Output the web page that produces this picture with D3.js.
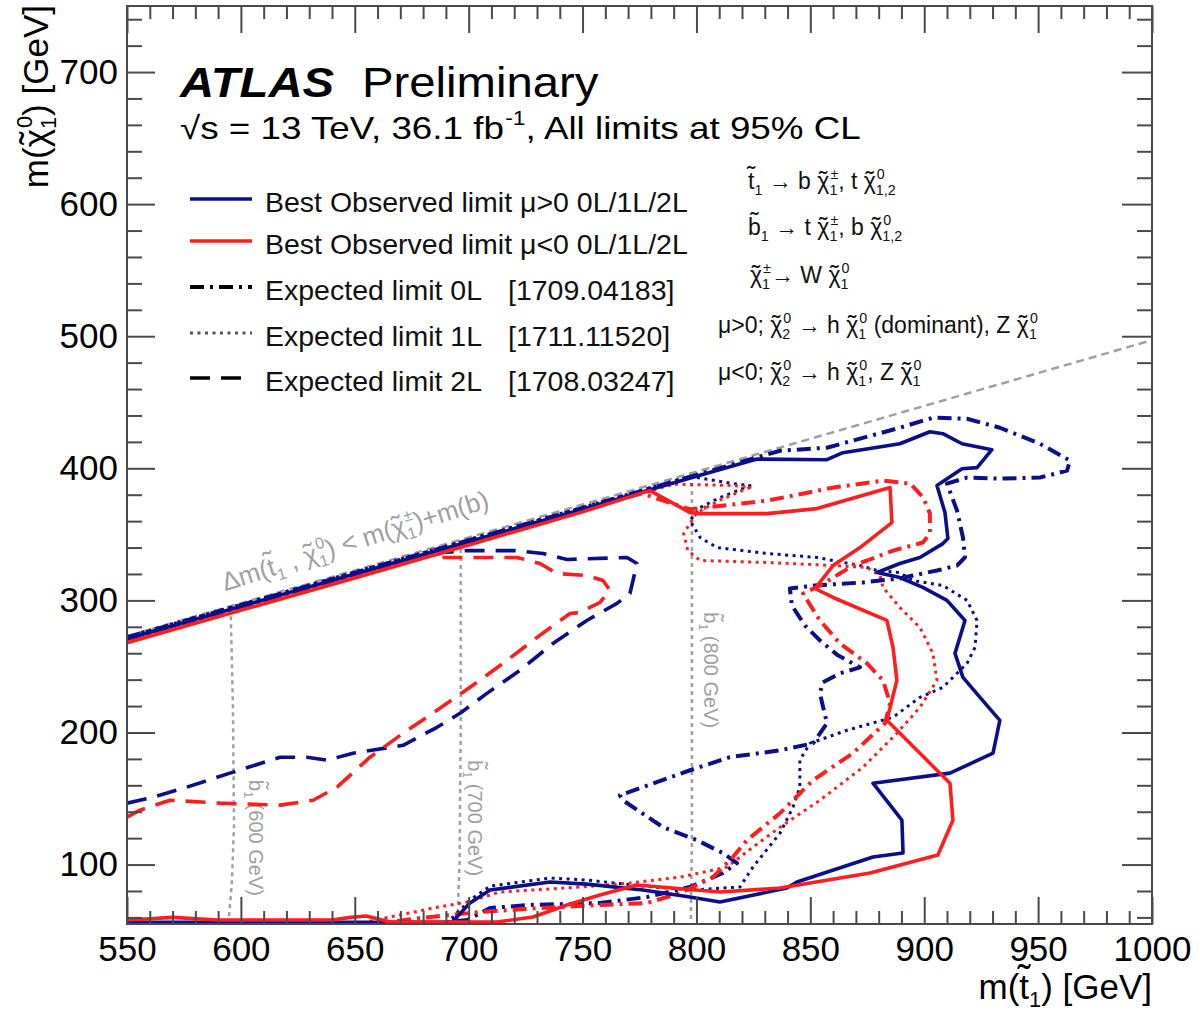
<!DOCTYPE html>
<html>
<head>
<meta charset="utf-8">
<script src="https://cdn.jsdelivr.net/npm/d3@7"></script>
<style>
  body { margin: 0; background: #fff; }
  svg { font-family: "Liberation Sans", Arial, Helvetica, sans-serif; }
  text { white-space: pre; }
</style>
</head>
<body>
<svg id="chart" width="1200" height="1016"></svg>
<script>
// ---------------------------------------------------------------------------
// ATLAS stop/sbottom -> b chi+, t chi0 exclusion summary (36.1 fb-1)
// values, [m(stop), m(chi0)] in GeV
// ---------------------------------------------------------------------------

const xDomain = [550, 1000];
const yDomain = [55, 750];
const xMajor = d3.range(550, 1001, 50);
const xMinor = d3.range(550, 1001, 10).filter(v => v % 50 !== 0);
const yMajor = d3.range(100, 701, 100);
const yMinor = d3.range(60, 750, 20).filter(v => v % 100 !== 0);

// best observed, mu > 0 (blue solid)
const obsPos = [
  [550, 271], [650, 320], [750, 369], [800, 394], [826.6, 407], [857.3, 406.5],
  [864.3, 411.8], [889.3, 418.6], [902.5, 427.7], [908.2, 426.2], [916.6, 418.6],
  [929.7, 414.1], [923.2, 400.5], [916.6, 399.7], [905.6, 386.9], [909.1, 366.5],
  [910.4, 346.8], [908.2, 343], [898.1, 332.5], [889.3, 327.9], [879.3, 321.1],
  [889.3, 317.3], [899.4, 309.8], [910, 300], [917.9, 284.8], [913.5, 259.9],
  [917, 241.7], [924.5, 226.6], [933.2, 209.2], [930.2, 184.3], [911.3, 169.2],
  [877.5, 161.6], [890.2, 133.6], [890.7, 108.7], [877.5, 105.7], [844.1, 86.8],
  [839.7, 82.2], [810.3, 71.6], [797.2, 75.4], [776.5, 80.7], [751.9, 85.2],
  [735.7, 86.8], [709.4, 80.7], [700.6, 70.9], [692.7, 56.5], [650, 56.3], [550, 56.3]
];

// best observed, mu < 0 (red solid)
const obsNeg = [
  [550, 268], [650, 317], [700, 342], [750, 367], [776.5, 381.6], [779.6, 383.1],
  [797.2, 366.5], [801.6, 365.7], [831, 365.7], [852.9, 369.5], [885, 385.4],
  [885.8, 358.9], [871.8, 340], [860, 326.4], [852, 309], [860, 302.2],
  [883.6, 284.8], [886.3, 264.4], [888, 239.5], [883.6, 209.2], [911.3, 161.6],
  [912.6, 133.6], [906, 107.2], [876.2, 93.6], [836.7, 82.2], [810.3, 79.2],
  [773.9, 84.5], [757.6, 76.9], [743.2, 69.4], [728.2, 60.3], [712.4, 56.5],
  [665.5, 56.5], [655, 61], [648, 60], [640, 58], [590, 58], [570, 60], [560, 59], [550, 58]
];

// expected 0L (dash-dot)
const exp0LPos = [
  [550, 272], [650, 321], [750, 370], [800, 395], [836.7, 413.3], [857.3, 415.6],
  [889.3, 430.7], [903.8, 438.3], [918.8, 437.5], [933.2, 430.7], [950.8, 418.6],
  [964, 405.8], [962.7, 398.2], [950.8, 393], [933.2, 392.2], [918.8, 393],
  [910, 388.4], [914.4, 368], [917, 347.6], [917.9, 332.5], [914.4, 326.4],
  [905.6, 322.6], [895, 318.8], [889.3, 316.6], [873.1, 313.6], [852, 311.3],
  [841, 309], [841.9, 296.2], [847.6, 281], [854.2, 269.7], [862.1, 258.4],
  [871.8, 249.3], [863, 244.8], [855.5, 238], [854.2, 229.6], [857.3, 207],
  [851.2, 191.8], [836.7, 186.5], [814.7, 181.3], [797.2, 171.4], [766.4, 152.5],
  [767.7, 148.7], [785.3, 128.3], [800.2, 118.5], [811.6, 108.7], [817.8, 101.1],
  [811.6, 93.6], [797.2, 83], [778.3, 75.4], [757.6, 70.9], [726.9, 69.4],
  [709.4, 67.1], [699.3, 58], [690, 56.3]
];
const exp0LNeg = [
  [550, 269], [650, 318], [750, 368], [776, 381], [797, 369], [831, 375.5],
  [860, 385.4], [882, 390.7], [893.9, 388.4], [899.6, 377.8], [902.5, 365.7],
  [902.5, 350.6], [899.4, 343.8], [886.3, 337.7], [874.9, 330.2], [868.7, 326.4],
  [863, 320.4], [854.2, 311.3], [846.8, 305.2], [854.2, 284.8], [863, 267.4],
  [874.9, 252.3], [881.9, 239.5], [885, 222.1], [882.8, 207], [868.7, 184.3],
  [851.2, 163.9], [836.7, 138.9], [822.2, 118.5], [816, 105.7], [807.3, 90.5],
  [792.8, 78.4], [778.3, 70.9], [757.6, 69.4], [731.3, 67.1], [705, 64.1],
  [678.6, 59.5], [665.5, 56.5]
];

// expected 1L (dotted)
const exp1LPos = [
  [550, 272.5], [650, 321.5], [750, 370.5], [797.2, 394], [816, 388.4], [823.5, 386.9],
  [810.3, 377.8], [801.6, 370.3], [797.2, 360.4], [801.6, 347.6], [809, 340],
  [831, 335.5], [852.9, 332.5], [871.8, 326.4], [879.3, 322.6], [889.3, 321.1],
  [895, 315], [908.2, 311.3], [918.8, 300], [923.2, 284.8], [922.3, 264.4],
  [918.8, 252.3], [914.4, 244.8], [908.2, 234.2], [898.1, 226.6], [886.3, 211.5],
  [866.1, 201.7], [849.8, 191.8], [845.4, 179], [845.4, 158.6], [842.4, 143.5],
  [836.7, 123.8], [824.8, 98.1], [819.1, 83], [797.2, 80.7], [776.5, 83.7],
  [751.9, 88.3], [735.7, 89.8], [709.4, 83.7], [700.6, 73.1], [691.8, 58]
];
const exp1LNeg = [
  [550, 269.5], [650, 318.5], [750, 368.5], [790, 388], [816, 387], [823.5, 385.5],
  [810.3, 376], [800, 366], [794.4, 350.6], [796.2, 337.7], [801.6, 330.2],
  [831, 328.7], [860, 326.4], [874.9, 324.9], [880.6, 318.8], [881.9, 309.8],
  [889.3, 294.6], [898.1, 279.5], [903.8, 259.9], [905.6, 239.5], [898.1, 219],
  [888, 199.4], [873.1, 173.7], [854.2, 148.7], [836.7, 128.3], [824.8, 113.2],
  [813.4, 98.1], [792.8, 90.5], [770.8, 86], [748.9, 83], [713.7, 79.2],
  [699.3, 71.6], [684.3, 67.1], [665.5, 60.3], [655, 56.5]
];

// expected 2L (dashed)
const exp2LPos = [
  [550, 146.5], [561.4, 151], [576.3, 158.6], [595.2, 169.2], [617.2, 181.3],
  [629, 181.3], [637.8, 179], [649.2, 184.3], [671.2, 190.3], [686.1, 203.9],
  [696.2, 214.5], [708, 229.6], [722.5, 247], [737, 267.4], [751.9, 284.8],
  [765.1, 297.7], [770.8, 305.2], [773.9, 327.9], [769.5, 332.5], [743.2, 331],
  [732.6, 335.5], [721.2, 337.7], [699.3, 337.7], [688.7, 336.2], [684.3, 334]
];
const exp2LNeg = [
  [550, 135.9], [555.7, 141.2], [568.9, 148.7], [590.8, 146.5], [617.2, 145],
  [631.7, 148.7], [642.2, 158.6], [656.7, 181.3], [671.2, 199.4], [686.1, 216.8],
  [700.6, 234.2], [715.1, 252.3], [730, 272], [744.5, 290.1], [748.9, 290.9],
  [757.6, 298.4], [762, 307.5], [759, 315], [752, 318.8], [738.8, 320.4],
  [731.3, 327.9], [721.2, 332.5], [706.3, 332.5], [688.7, 332.5], [684.3, 331.7]
];

// kinematic limit and sbottom mass contours
const kinLine = [[550, 273], [1000, 497]];
const sb600 = [[595.5, 294], [596.5, 220], [597, 130], [596, 85], [594.5, 56]];
const sb700 = [[696.5, 345], [696.5, 200], [696, 100], [695, 56]];
const sb800 = [[798, 395], [798, 250], [798, 120], [797.5, 56]];
const sbLabels = ["(600 GeV)", "(700 GeV)", "(800 GeV)"];

const legendLabels = [
  "Best Observed limit \u03bc>0 0L/1L/2L",
  "Best Observed limit \u03bc<0 0L/1L/2L",
  "Expected limit 0L",
  "Expected limit 1L",
  "Expected limit 2L"
];
const legendRefs = ["", "", "[1709.04183]", "[1711.11520]", "[1708.03247]"];

// text pieces: base char with tilde, super- and subscripts
const chi = (sup, sub) => ({ t: "\u03c7", tilde: "low", sup, sub });
const stop1 = { t: "t", tilde: "high", sub: "1" };
const sbot1 = { t: "b", tilde: "high", sub: "1" };
const decayLines = [
  [stop1, {t: " \u2192 b "}, chi("\u00b1", "1"), {t: ", t "}, chi("0", "1,2")],
  [sbot1, {t: " \u2192 t "}, chi("\u00b1", "1"), {t: ", b "}, chi("0", "1,2")],
  [chi("\u00b1", "1"), {t: "\u2192 W "}, chi("0", "1")],
  [{t: "\u03bc>0; "}, chi("0", "2"), {t: " \u2192 h "}, chi("0", "1"), {t: " (dominant), Z "}, chi("0", "1")],
  [{t: "\u03bc<0; "}, chi("0", "2"), {t: " \u2192 h "}, chi("0", "1"), {t: ", Z "}, chi("0", "1")]
];

// ---------------------------------------------------------------------------

const BLUE = "#0b0f8a";
const RED = "#ff1e1e";
const GRAY = "#a0a0a0";

const margin = { left: 127, right: 48, top: 6, bottom: 92 };
const W = 1200, H = 1016;

const svg = d3.select("#chart");
const x = d3.scaleLinear().domain(xDomain).range([margin.left, W - margin.right]);
const y = d3.scaleLinear().domain(yDomain).range([H - margin.bottom, margin.top]);

// hidden text used only to measure string widths
const measurer = svg.append("text").attr("visibility", "hidden");
function textWidth(str, size) {
  measurer.attr("font-size", size).text(str);
  return measurer.node().getComputedTextLength();
}

// one <text> with tspans: tilde accents, super/subscripts; returns width
function richText(g, x0, y0, parts, size, color) {
  const t = g.append("text").attr("fill", color);
  let cx = x0;
  const small = size * 0.62;
  parts.forEach(p => {
    if (p.t) {
      const w = textWidth(p.t, size);
      t.append("tspan").attr("x", cx).attr("y", y0).attr("font-size", size).text(p.t);
      if (p.tilde) {
        t.append("tspan")
          .attr("x", cx + w / 2 - textWidth("\u02dc", size * 1.1) / 2)
          .attr("y", y0 - size * (p.tilde === "high" ? 0.2 : 0.02))
          .attr("font-size", size * 1.1)
          .text("\u02dc");
      }
      cx += w;
    }
    let w = 0;
    if (p.sup) {
      t.append("tspan").attr("x", cx + 1).attr("y", y0 - size * 0.45)
        .attr("font-size", small).text(p.sup);
      w = Math.max(w, textWidth(p.sup, small) + 1);
    }
    if (p.sub) {
      t.append("tspan").attr("x", cx).attr("y", y0 + size * 0.24)
        .attr("font-size", small).text(p.sub);
      w = Math.max(w, textWidth(p.sub, small));
    }
    cx += w;
  });
  return cx - x0;
}

svg.append("defs").append("clipPath").attr("id", "plotClip")
  .append("rect")
  .attr("x", x(xDomain[0])).attr("y", y(yDomain[1]))
  .attr("width", x(xDomain[1]) - x(xDomain[0]))
  .attr("height", y(yDomain[0]) - y(yDomain[1]));

const line = d3.line().x(d => x(d[0])).y(d => y(d[1]));

// kinematic limit + sbottom contours
const guide = svg.append("g").attr("clip-path", "url(#plotClip)");
guide.append("path").attr("d", line(kinLine))
  .attr("fill", "none").attr("stroke", GRAY).attr("stroke-width", 2.5)
  .attr("stroke-dasharray", "8 5");
[sb600, sb700, sb800].forEach(c => {
  guide.append("path").attr("d", line(c))
    .attr("fill", "none").attr("stroke", GRAY).attr("stroke-width", 2.5)
    .attr("stroke-dasharray", "4 4");
});

// sbottom labels, rotated, reading downwards
const sbLabelPos = [[603.6, 164], [699.7, 179], [803.3, 291]];
sbLabelPos.forEach((p, i) => {
  const g = svg.append("g").attr("transform", `translate(${x(p[0])},${y(p[1])}) rotate(90)`);
  richText(g, 0, 0, [sbot1, {t: " " + sbLabels[i]}], 20, GRAY);
});

// kinematic label
{
  const g = svg.append("g").attr("transform", `translate(${x(593)},${y(307)}) rotate(-17.5)`);
  richText(g, 0, 0, [
    {t: "\u0394m("}, stop1, {t: " , "}, chi("0", "1"),
    {t: ") < m("}, chi("\u00b1", "1"), {t: ")+m(b)"}
  ], 26, GRAY);
}

// contours
const styles = {
  obs: { dash: null, w: 3.6 },
  exp0L: { dash: "14 6 3 6", w: 4 },
  exp1L: { dash: "3 4.5", w: 3 },
  exp2L: { dash: "20 11", w: 3.6 }
};
const curves = [
  { d: exp2LPos, c: BLUE, s: "exp2L" }, { d: exp2LNeg, c: RED, s: "exp2L" },
  { d: exp1LPos, c: BLUE, s: "exp1L" }, { d: exp1LNeg, c: RED, s: "exp1L" },
  { d: exp0LPos, c: BLUE, s: "exp0L" }, { d: exp0LNeg, c: RED, s: "exp0L" },
  { d: obsPos, c: BLUE, s: "obs" }, { d: obsNeg, c: RED, s: "obs" }
];
svg.append("g").attr("clip-path", "url(#plotClip)")
  .selectAll("path")
  .data(curves)
  .join("path")
  .attr("d", d => line(d.d))
  .attr("fill", "none")
  .attr("stroke", d => d.c)
  .attr("stroke-width", d => styles[d.s].w)
  .attr("stroke-dasharray", d => styles[d.s].dash)
  .attr("stroke-linejoin", "round");

// axes, ticks on all four sides
const AX = "#4a4a4a";
function styleAxis(g) {
  g.select(".domain").remove();
  g.selectAll(".tick line").attr("stroke", AX).attr("stroke-width", 2);
  g.selectAll(".tick text").attr("fill", "#000").attr("font-size", 35)
    .attr("font-family", '"Liberation Sans", Arial, sans-serif');
}
const yB = y(yDomain[0]), yT = y(yDomain[1]), xL = x(xDomain[0]), xR = x(xDomain[1]);

svg.append("g").attr("transform", `translate(0,${yB})`)
  .call(d3.axisBottom(x).tickValues(xMajor).tickSizeInner(-27).tickSizeOuter(0).tickPadding(12).tickFormat(d3.format("d")))
  .call(styleAxis);
svg.append("g").attr("transform", `translate(0,${yB})`)
  .call(d3.axisBottom(x).tickValues(xMinor).tickSizeInner(-13).tickSizeOuter(0).tickFormat(""))
  .call(styleAxis);
svg.append("g").attr("transform", `translate(0,${yT})`)
  .call(d3.axisTop(x).tickValues(xMajor).tickSizeInner(-27).tickSizeOuter(0).tickFormat(""))
  .call(styleAxis);
svg.append("g").attr("transform", `translate(0,${yT})`)
  .call(d3.axisTop(x).tickValues(xMinor).tickSizeInner(-13).tickSizeOuter(0).tickFormat(""))
  .call(styleAxis);
svg.append("g").attr("transform", `translate(${xL},0)`)
  .call(d3.axisLeft(y).tickValues(yMajor).tickSizeInner(-28).tickSizeOuter(0).tickPadding(9).tickFormat(d3.format("d")))
  .call(styleAxis);
svg.append("g").attr("transform", `translate(${xL},0)`)
  .call(d3.axisLeft(y).tickValues(yMinor).tickSizeInner(-15).tickSizeOuter(0).tickFormat(""))
  .call(styleAxis);
svg.append("g").attr("transform", `translate(${xR},0)`)
  .call(d3.axisRight(y).tickValues(yMajor).tickSizeInner(-30).tickSizeOuter(0).tickFormat(""))
  .call(styleAxis);
svg.append("g").attr("transform", `translate(${xR},0)`)
  .call(d3.axisRight(y).tickValues(yMinor).tickSizeInner(-15).tickSizeOuter(0).tickFormat(""))
  .call(styleAxis);

svg.append("rect")
  .attr("x", xL).attr("y", yT).attr("width", xR - xL).attr("height", yB - yT)
  .attr("fill", "none").attr("stroke", AX).attr("stroke-width", 2);

// axis titles
{
  const g = svg.append("g");
  const w = richText(g, 0, 0, [{t: "m("}, stop1, {t: ") [GeV]"}], 35, "#000");
  g.attr("transform", `translate(${xR - w},999)`);
}
{
  const g = svg.append("g").attr("transform", "translate(48,5) rotate(-90)");
  const inner = g.append("g");
  const w = richText(inner, 0, 0, [{t: "m("}, chi("0", "1"), {t: ") [GeV]"}], 35, "#000");
  inner.attr("transform", `translate(${-w},0)`);
}

// ATLAS label
svg.append("text").attr("transform", "translate(180,97) scale(1.1,1)")
  .attr("font-size", 43).attr("font-weight", "bold").attr("font-style", "italic")
  .text("ATLAS");
svg.append("text").attr("transform", "translate(362,97) scale(1.1,1)")
  .attr("font-size", 43).text("Preliminary");
richText(svg.append("g").attr("transform", "translate(180,139) scale(1.15,1)"), 0, 0, [
  {t: "\u221as = 13 TeV, 36.1 fb", sup: "-1"}, {t: ", All limits at 95% CL"}
], 32, "#000");

// legend
const legendY = [199, 241, 287, 333, 378];
const legendSamples = [
  { c: BLUE, s: "obs" }, { c: RED, s: "obs" },
  { c: "#000", s: "exp0L" }, { c: "#555", s: "exp1L" }, { c: "#000", s: "exp2L" }
];
const legend = svg.append("g");
legendLabels.forEach((lab, i) => {
  const st = styles[legendSamples[i].s];
  legend.append("line")
    .attr("x1", 190).attr("x2", 252).attr("y1", legendY[i]).attr("y2", legendY[i])
    .attr("stroke", legendSamples[i].c).attr("stroke-width", st.w)
    .attr("stroke-dasharray", st.dash);
  legend.append("text").attr("x", 265).attr("y", legendY[i] + 13)
    .attr("font-size", 28.5).attr("fill", "#111").text(lab);
  if (legendRefs[i]) {
    legend.append("text").attr("x", 508).attr("y", legendY[i] + 13)
      .attr("font-size", 28.5).attr("fill", "#111").text(legendRefs[i]);
  }
});

// decay chain text
const decayPos = [[748, 189], [748, 235], [750, 283], [718, 333], [718, 380]];
decayLines.forEach((parts, i) => {
  richText(svg.append("g"), decayPos[i][0], decayPos[i][1], parts, 23, "#111");
});

measurer.remove();
</script>
</body>
</html>
